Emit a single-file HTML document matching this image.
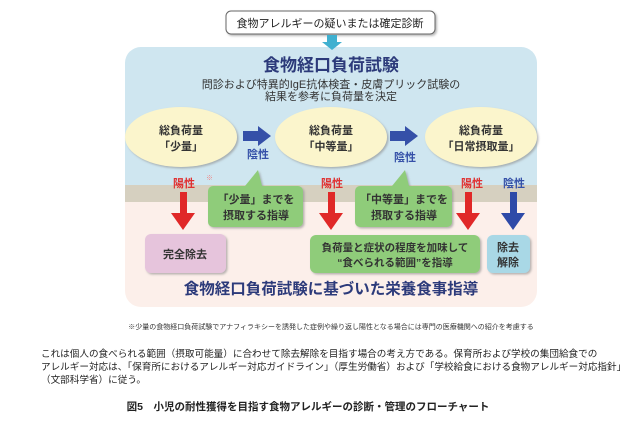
<!DOCTYPE html>
<html><head><meta charset="utf-8"><style>
html,body{margin:0;padding:0;background:#fff;}
svg{display:block;}
text{font-family:"Liberation Sans","Noto Sans CJK JP",sans-serif;}
</style></head><body>
<svg width="643" height="429" viewBox="0 0 643 429" xmlns="http://www.w3.org/2000/svg">
<defs>
<filter id="sh" x="-10%" y="-10%" width="130%" height="140%"><feDropShadow dx="1.5" dy="1.5" stdDeviation="1" flood-color="#888" flood-opacity="0.6"/></filter>
</defs>
<!-- panels -->
<rect x="125" y="185" width="412" height="122" rx="16" fill="#fcefea"/>
<rect x="125" y="47" width="412" height="155" rx="16" fill="#cfe6f0"/>
<rect x="125" y="185" width="412" height="17" fill="#d6d0c0"/>
<rect x="125" y="185" width="412" height="122" rx="16" fill="none"/>
<!-- top box -->
<rect x="226" y="11" width="209" height="23" rx="5" fill="#fff" stroke="#666" stroke-width="1" filter="url(#sh)"/>
<text x="330" y="27" font-size="11" text-anchor="middle" fill="#222">食物アレルギーの疑いまたは確定診断</text>
<polygon points="327,35 337,35 337,42 342,42 332,50 322,42 327,42" fill="#3fb0d0"/>
<text x="331" y="71" font-size="17" font-weight="bold" text-anchor="middle" fill="#2c3a7a">食物経口負荷試験</text>
<text x="331" y="88" font-size="11" text-anchor="middle" fill="#333">問診および特異的IgE抗体検査・皮膚プリック試験の</text>
<text x="331" y="100" font-size="11" text-anchor="middle" fill="#333">結果を参考に負荷量を決定</text>
<!-- ellipses -->
<ellipse cx="181" cy="137" rx="56" ry="30" fill="#fbf5cc" filter="url(#sh)"/>
<ellipse cx="331" cy="137" rx="56" ry="30" fill="#fbf5cc" filter="url(#sh)"/>
<ellipse cx="481" cy="137" rx="56" ry="30" fill="#fbf5cc" filter="url(#sh)"/>
<g font-size="11" text-anchor="middle" fill="#333" font-weight="bold">
<text x="181" y="134">総負荷量</text><text x="181" y="150">「少量」</text>
<text x="331" y="134">総負荷量</text><text x="331" y="150">「中等量」</text>
<text x="481" y="134">総負荷量</text><text x="481" y="150">「日常摂取量」</text>
</g>
<!-- blue arrows -->
<polygon points="243,131 258,131 258,126 271,136 258,146 258,141 243,141" fill="#3550a8"/>
<polygon points="390,131 405,131 405,126 418,136 405,146 405,141 390,141" fill="#3550a8"/>
<g font-size="11" font-weight="bold" fill="#3550a8" text-anchor="middle">
<text x="258" y="158">陰性</text><text x="405" y="161">陰性</text><text x="514" y="187">陰性</text>
</g>
<g font-size="11" font-weight="bold" fill="#e03030" text-anchor="middle">
<text x="184" y="187">陽性</text><text x="332" y="187">陽性</text><text x="472" y="187">陽性</text>
</g>
<text x="206" y="180" font-size="7" fill="#e88">※</text>
<!-- red arrows -->
<polygon points="180,192 187,192 187,213 195,213 183,230 171,213 180,213" fill="#e02828"/>
<polygon points="328,192 335,192 335,213 343,213 331,230 319,213 328,213" fill="#e02828"/>
<polygon points="465,192 472,192 472,213 480,213 468,230 456,213 465,213" fill="#e02828"/>
<polygon points="510,192 517,192 517,213 525,213 513,230 501,213 510,213" fill="#2e4aa8"/>
<!-- green callouts -->
<path d="M213,186 H245 L258,170 L262,186 H298 a5,5 0 0 1 5,5 V222 a5,5 0 0 1 -5,5 H213 a5,5 0 0 1 -5,-5 V191 a5,5 0 0 1 5,-5Z" fill="#8fcc7a" filter="url(#sh)"/>
<path d="M360,186 H392 L405,170 L409,186 H447 a5,5 0 0 1 5,5 V222 a5,5 0 0 1 -5,5 H360 a5,5 0 0 1 -5,-5 V191 a5,5 0 0 1 5,-5Z" fill="#8fcc7a" filter="url(#sh)"/>
<g font-size="11" text-anchor="middle" fill="#333" font-weight="bold">
<text x="256" y="203">「少量」までを</text><text x="256" y="219">摂取する指導</text>
<text x="404" y="203">「中等量」までを</text><text x="404" y="219">摂取する指導</text>
</g>
<!-- bottom boxes -->
<rect x="145" y="234" width="81" height="39" rx="6" fill="#e6c4dc" filter="url(#sh)"/>
<text x="185" y="258" font-size="11" font-weight="bold" text-anchor="middle" fill="#333">完全除去</text>
<rect x="310" y="235" width="170" height="38" rx="6" fill="#8fcc7a" filter="url(#sh)"/>
<text x="395" y="251" font-size="10.5" font-weight="bold" text-anchor="middle" fill="#333">負荷量と症状の程度を加味して</text>
<text x="395" y="266" font-size="10.5" font-weight="bold" text-anchor="middle" fill="#333">“食べられる範囲”を指導</text>
<rect x="487" y="235" width="43" height="38" rx="6" fill="#a9d8e6" filter="url(#sh)"/>
<text x="508" y="251" font-size="11" font-weight="bold" text-anchor="middle" fill="#333">除去</text>
<text x="508" y="266" font-size="11" font-weight="bold" text-anchor="middle" fill="#333">解除</text>
<text x="331" y="294" font-size="15.5" font-weight="bold" text-anchor="middle" fill="#2c3a7a">食物経口負荷試験に基づいた栄養食事指導</text>
<text x="331" y="329" font-size="7" text-anchor="middle" fill="#333">※少量の食物経口負荷試験でアナフィラキシーを誘発した症例や繰り返し陽性となる場合には専門の医療機関への紹介を考慮する</text>
<g font-size="9.6" fill="#222">
<text x="41" y="357">これは個人の食べられる範囲（摂取可能量）に合わせて除去解除を目指す場合の考え方である。保育所および学校の集団給食での</text>
<text x="41" y="370">アレルギー対応は、「保育所におけるアレルギー対応ガイドライン」（厚生労働省）および「学校給食における食物アレルギー対応指針」</text>
<text x="41" y="383">（文部科学省）に従う。</text>
</g>
<text x="308" y="410" font-size="10.5" font-weight="bold" text-anchor="middle" fill="#222">図5　小児の耐性獲得を目指す食物アレルギーの診断・管理のフローチャート</text>
</svg>
</body></html>
